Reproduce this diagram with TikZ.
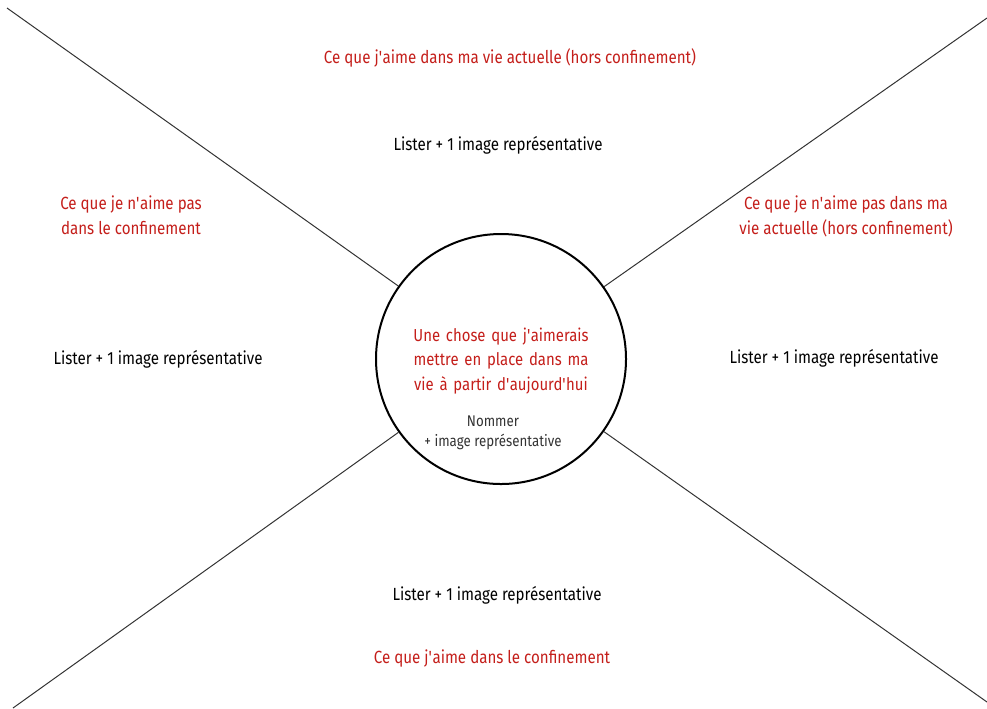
\documentclass[tikz,border=0pt]{standalone}
\usepackage{fontspec}
\setmainfont[FakeStretch=0.86]{Fira Sans}
\usepackage{xcolor}
\definecolor{rouge}{HTML}{C41E1A}
\definecolor{gristexte}{HTML}{333333}
\usepackage{tikz}
\usetikzlibrary{positioning}
\newcommand{\apos}{\textquotesingle}

\begin{document}
\begin{tikzpicture}[x=0.75pt,y=-0.75pt,
rayon/.style={draw=black!80,line width=0.75pt},
titre/.style={text=rouge,font=\fontsize{13.2}{18.5}\selectfont,align=center,inner sep=0pt},
consigne/.style={text=black,font=\fontsize{13.2}{18.5}\selectfont,align=center,inner sep=0pt}]
\useasboundingbox (0,0) rectangle (987,708);
\node (centre) [circle,draw,line width=1.5pt,minimum size=250*0.75pt,inner sep=0pt] at (501,359) {};
\coordinate (hg) at (7,8);
\coordinate (hd) at (987,18);
\coordinate (bg) at (13,708);
\coordinate (bd) at (987,702);
\draw [rayon] (centre) -- (hg);
\draw [rayon] (centre) -- (hd);
\draw [rayon] (centre) -- (bg);
\draw [rayon] (centre) -- (bd);
% au centre
\node (envie) [titre,text width=200*0.75pt,font=\fontsize{13}{18.4}\selectfont] at (501,361) {Une chose que j\apos aimerais\\mettre en place dans ma\\vie à partir d\apos aujourd\apos hui};
\node (nommer) [consigne,text=gristexte,font=\fontsize{11.6}{15}\selectfont] at (493,433) {Nommer\\+ image représentative};
% en haut
\node (haut) [titre] at (510,58) {Ce que j\apos aime dans ma vie actuelle (hors confinement)};
\node (hautliste) [consigne] at (498,145) {Lister + 1 image représentative};
% a gauche
\node (gauche) [titre] at (131,215.5) {Ce que je n\apos aime pas\\dans le confinement};
\node (gaucheliste) [consigne] at (158,359) {Lister + 1 image représentative};
% a droite
\node (droite) [titre] at (846,216.5) {Ce que je n\apos aime pas dans ma\\vie actuelle (hors confinement)};
\node (droiteliste) [consigne] at (834,358) {Lister + 1 image représentative};
% en bas
\node (basliste) [consigne] at (497,595) {Lister + 1 image représentative};
\node (bas) [titre] at (492,658) {Ce que j\apos aime dans le confinement};
\end{tikzpicture}
\end{document}
